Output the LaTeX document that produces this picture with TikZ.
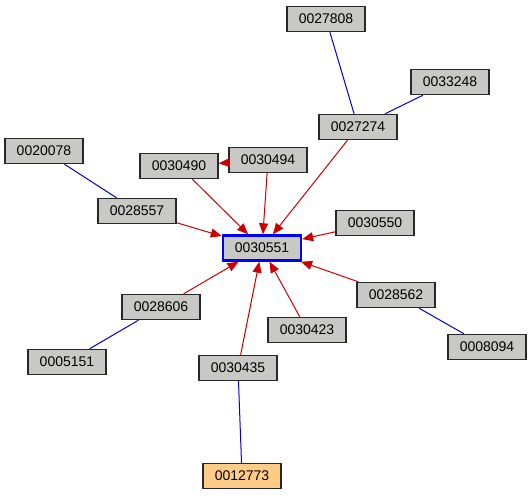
\documentclass[tikz,border=0pt]{standalone}
\usepackage{fontspec}
\setmainfont{Liberation Sans}
\usetikzlibrary{arrows.meta}
\definecolor{boxfill}{RGB}{200,201,196}
\definecolor{boxedge}{RGB}{40,40,40}
\definecolor{orangefill}{RGB}{255,204,136}
\definecolor{redline}{RGB}{204,0,0}
\definecolor{blueline}{RGB}{0,0,210}
\begin{document}
\begin{tikzpicture}[x=1pt,y=-1pt,
  idbox/.style={draw=boxedge,line width=1.4pt,fill=boxfill,minimum width=78pt,minimum height=25pt,inner sep=0pt,font=\fontsize{14}{16}\selectfont},
  centerbox/.style={idbox,draw=blue,line width=2.4pt},
  orangebox/.style={idbox,fill=orangefill},
  redarrow/.style={draw=redline,line width=1pt,-{Triangle[length=11pt,width=9pt]}},
  bluelink/.style={draw=blueline,line width=1pt}]
\useasboundingbox (0,0) rectangle (532,496);
\node[idbox] (n27808) at (326,19) {0027808};
\node[idbox] (n33248) at (450,82) {0033248};
\node[idbox] (n27274) at (358,127) {0027274};
\node[idbox] (n20078) at (44,151) {0020078};
\node[idbox] (n30490) at (179,166) {0030490};
\node[idbox] (n30494) at (268,160) {0030494};
\node[idbox] (n28557) at (137,211) {0028557};
\node[idbox] (n30550) at (375,223) {0030550};
\node[centerbox] (n30551) at (262,248) {0030551};
\node[idbox] (n28562) at (396,295) {0028562};
\node[idbox] (n28606) at (161,307) {0028606};
\node[idbox] (n30423) at (307,330) {0030423};
\node[idbox] (n08094) at (487,347) {0008094};
\node[idbox] (n05151) at (67,362) {0005151};
\node[idbox] (n30435) at (238,368) {0030435};
\node[orangebox] (n12773) at (242,476) {0012773};
% blue links
\draw[bluelink] (n27808) -- (n27274);
\draw[bluelink] (n33248) -- (n27274);
\draw[bluelink] (n20078) -- (n28557);
\draw[bluelink] (n28562) -- (n08094);
\draw[bluelink] (n28606) -- (n05151);
\draw[bluelink] (n30435) -- (n12773);
% red arrows
\draw[redarrow] (n30494) -- (n30490);
\draw[redarrow] (n30490) -- (n30551);
\draw[redarrow] (n30494) -- (n30551);
\draw[redarrow] (n27274) -- (n30551);
\draw[redarrow] (n28557) -- (n30551);
\draw[redarrow] (n30550) -- (n30551);
\draw[redarrow] (n28562) -- (n30551);
\draw[redarrow] (n30423) -- (n30551);
\draw[redarrow] (n30435) -- (n30551);
\draw[redarrow] (n28606) -- (n30551);
\end{tikzpicture}
\end{document}
